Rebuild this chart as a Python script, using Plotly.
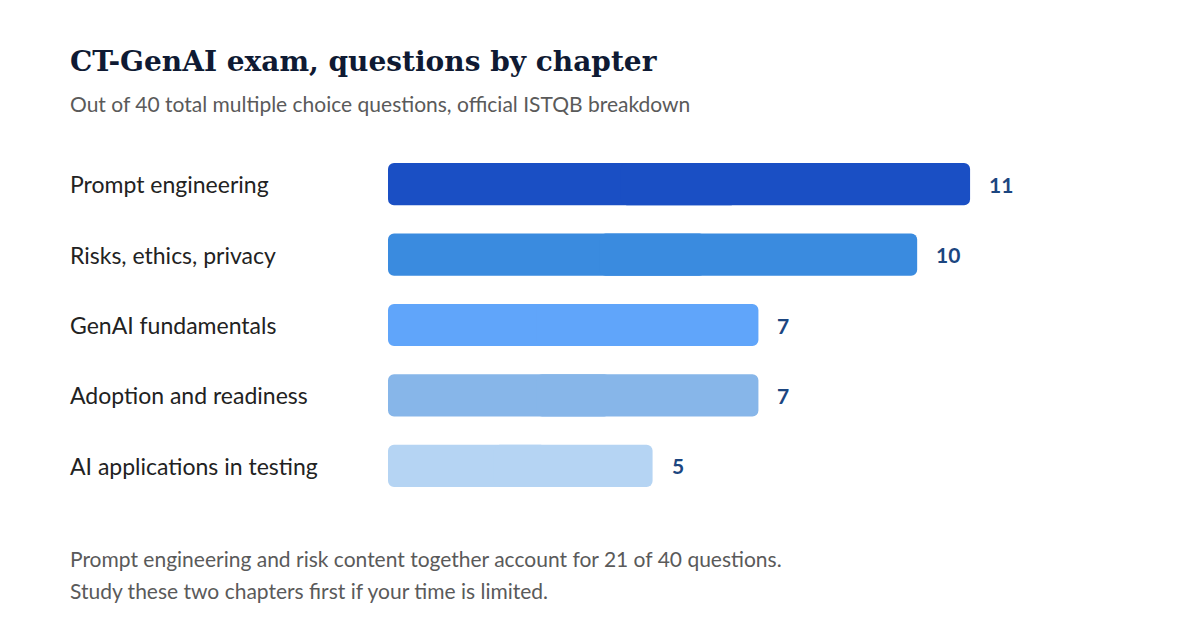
import plotly.graph_objects as go

# Data
chapters = ["Prompt engineering", "Risks, ethics, privacy", "GenAI fundamentals",
            "Adoption and readiness", "AI applications in testing"]
questions = [11, 10, 7, 7, 5]
bar_colors = ["#1a4fc4", "#3a8bdf", "#60a5fa", "#87b6e9", "#b5d4f3"]

title = "CT-GenAI exam, questions by chapter"
subtitle = "Out of 40 total multiple choice questions, official ISTQB breakdown"
footer = ["Prompt engineering and risk content together account for 21 of 40 questions.",
          "Study these two chapters first if your time is limited."]

# page offset of 8px is taken off the pixel positions below
W, H = 1200, 620
L, R, T, B = 380, 185, 141, 127
pw, ph = W - L - R, H - T - B


def px_x(x):
    return (x - 8 - L) / pw


def px_y(y):
    return (H - B - (y - 8)) / ph


fig = go.Figure()

# each bar drawn as two overlapping parts so both ends get rounded corners
fig.add_trace(go.Bar(
    x=[-0.6 * v for v in questions], base=[0.6 * v for v in questions],
    y=chapters, orientation='h', width=0.6,
    marker=dict(color=bar_colors, line=dict(width=0)),
    hoverinfo='skip'
))
fig.add_trace(go.Bar(
    x=[0.6 * v for v in questions], base=[0.4 * v for v in questions],
    y=chapters, orientation='h', width=0.6,
    marker=dict(color=bar_colors, line=dict(width=0)),
    hoverinfo='skip'
))

# category labels, left aligned
for name in chapters:
    fig.add_annotation(x=px_x(68), xref='paper', y=name, yref='y',
                       text=name, showarrow=False, xanchor='left', yanchor='middle',
                       font=dict(family="Lato", size=23, color="#222222"))

# value labels
for name, v in zip(chapters, questions):
    fig.add_annotation(x=v, y=name, text=f"<b>{v}</b>", showarrow=False,
                       xanchor='left', yanchor='middle', xshift=17,
                       font=dict(family="Lato", size=21, color="#1c4680"))

# subtitle and footer
fig.add_annotation(x=px_x(68), xref='paper', y=px_y(103), yref='paper',
                   text=subtitle, showarrow=False, xanchor='left', yanchor='middle',
                   font=dict(family="Lato", size=21, color="#5a5a5a"))
for i, line in enumerate(footer):
    fig.add_annotation(x=px_x(68), xref='paper', y=px_y(558 + 32 * i), yref='paper',
                       text=line, showarrow=False, xanchor='left', yanchor='middle',
                       font=dict(family="Lato", size=21, color="#5a5a5a"))

fig.update_layout(
    width=W, height=H,
    margin=dict(l=L, r=R, t=T, b=B),
    paper_bgcolor="white", plot_bgcolor="white",
    title=dict(text="<b>" + title + "</b>", x=62 / W, xanchor='left', xref='container',
               y=1 - 53 / H, yanchor='middle', yref='container',
               font=dict(family="DejaVu Serif", size=28, color="#0f1a33")),
    barmode='overlay',
    barcornerradius=6,
    showlegend=False,
    xaxis=dict(range=[0, 12], visible=False, fixedrange=True),
    yaxis=dict(autorange='reversed', visible=False, fixedrange=True),
)

fig.write_html("out.html")
